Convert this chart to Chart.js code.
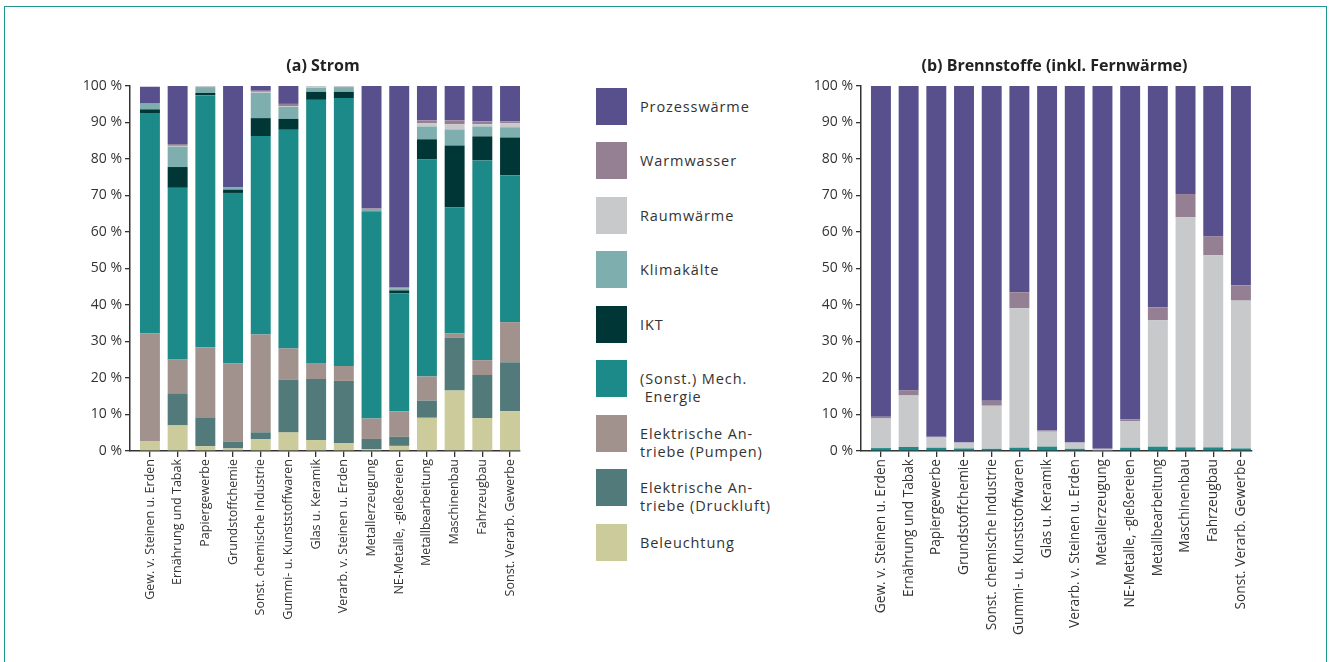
<!DOCTYPE html>
<html>
<head>
<meta charset="utf-8">
<script src="https://cdn.jsdelivr.net/npm/chart.js@4/dist/chart.umd.min.js"></script>
<style>
  html, body { margin: 0; padding: 0; background: #ffffff; }
  body { width: 1335px; height: 662px; position: relative; overflow: hidden; font-family: "Open Sans", sans-serif; }
  #frame { position: absolute; left: 4px; top: 6px; width: 1323px; height: 700px; border: 1.5px solid #1f978e; box-sizing: border-box; }
  #cLeft { position: absolute; left: 0; top: 0; }
  #cRight { position: absolute; left: 780px; top: 0; }
  #legend { position: absolute; left: 596px; top: 0; }
  .sw { position: absolute; left: 0; width: 31px; height: 37px; }
  .lbl { position: absolute; left: 44px; white-space: pre; font-size: 14.5px; line-height: 17.5px; color: #333; letter-spacing: 0.9px; }
</style>
</head>
<body>
<div id="frame"></div>
<canvas id="cLeft" width="560" height="662"></canvas>
<canvas id="cRight" width="555" height="662"></canvas>
<div id="legend"></div>
<script>
// ---------- DATA ----------
const categories = [
  "Gew. v. Steinen u. Erden", "Ernährung und Tabak", "Papiergewerbe", "Grundstoffchemie",
  "Sonst. chemische Industrie", "Gummi- u. Kunststoffwaren", "Glas u. Keramik",
  "Verarb. v. Steinen u. Erden", "Metallerzeugung", "NE-Metalle, -gießereien",
  "Metallbearbeitung", "Maschinenbau", "Fahrzeugbau", "Sonst. Verarb. Gewerbe"
];
const yTicks = [0, 10, 20, 30, 40, 50, 60, 70, 80, 90, 100];
const seriesNames = ["Beleuchtung", "Elektrische An-\ntriebe (Druckluft)", "Elektrische An-\ntriebe (Pumpen)",
  "(Sonst.) Mech.\n Energie", "IKT", "Klimakälte", "Raumwärme", "Warmwasser", "Prozesswärme"];

// (a) Strom, share in %
const stromBeleuchtung = [2.6, 7.0, 1.3, 0.7, 3.2, 5.1, 3.0, 2.2, 0.5, 1.4, 9.1, 16.6, 9.0, 10.9];
const stromDruckluft   = [0.0, 8.8, 7.9, 1.9, 1.9, 14.5, 16.7, 17.0, 2.8, 2.5, 4.7, 14.5, 11.8, 13.4];
const stromPumpen      = [29.6, 9.3, 19.2, 21.4, 26.8, 8.5, 4.4, 4.1, 5.6, 6.9, 6.6, 1.1, 4.1, 11.0];
const stromMech        = [60.4, 47.0, 69.1, 46.7, 54.4, 59.9, 72.1, 73.4, 56.8, 32.4, 59.5, 34.6, 54.7, 40.2];
const stromIKT         = [1.0, 5.7, 0.6, 0.9, 4.9, 3.0, 2.2, 1.7, 0.0, 0.8, 5.5, 16.9, 6.6, 10.4];
const stromKlima       = [1.5, 5.6, 1.6, 0.5, 6.9, 3.3, 1.1, 1.3, 0.6, 0.6, 3.5, 4.4, 2.7, 2.8];
const stromRaum        = [0.0, 0.2, 0.3, 0.0, 0.3, 0.2, 0.5, 0.3, 0.0, 0.0, 0.9, 1.4, 0.6, 1.1];
const stromWarm        = [0.1, 0.5, 0.0, 0.2, 0.3, 0.6, 0.0, 0.0, 0.2, 0.2, 0.8, 1.1, 0.8, 0.5];
const stromProzess     = [4.6, 15.9, 0.0, 27.7, 1.3, 4.9, 0.0, 0.0, 33.5, 55.2, 9.4, 9.4, 9.7, 9.7];

// (b) Brennstoffe (inkl. Fernwärme), share in %
const brennBeleuchtung = [0, 0, 0, 0, 0, 0, 0, 0, 0, 0, 0, 0, 0, 0];
const brennDruckluft   = [0, 0, 0, 0, 0, 0, 0, 0, 0, 0, 0, 0, 0, 0];
const brennPumpen      = [0, 0, 0, 0, 0, 0, 0, 0, 0, 0, 0, 0, 0, 0];
const brennMech        = [0.8, 1.1, 0.9, 0.7, 0.6, 0.9, 1.2, 0.6, 0.0, 0.9, 1.2, 1.0, 1.0, 0.7];
const brennIKT         = [0, 0, 0, 0, 0, 0, 0, 0, 0, 0, 0, 0, 0, 0];
const brennKlima       = [0, 0, 0, 0, 0, 0, 0, 0, 0, 0, 0, 0, 0, 0];
const brennRaum        = [8.1, 14.1, 2.8, 1.6, 11.8, 38.2, 4.1, 1.7, 0.6, 7.2, 34.6, 63.0, 52.6, 40.5];
const brennWarm        = [0.5, 1.4, 0.2, 0.0, 1.4, 4.4, 0.3, 0.0, 0.0, 0.5, 3.5, 6.4, 5.2, 4.2];
const brennProzess     = [90.6, 83.4, 96.1, 97.7, 86.2, 56.5, 94.4, 97.7, 99.4, 91.4, 60.7, 29.6, 41.2, 54.6];

const colors = ["#cccb9b", "#527a7a", "#a1928d", "#1c8a89", "#003636", "#7eaeae", "#c8c9cb", "#957f93", "#58508c"];

// ---------- BUILD ----------
const stromSeries = [stromBeleuchtung, stromDruckluft, stromPumpen, stromMech, stromIKT, stromKlima, stromRaum, stromWarm, stromProzess];
const brennSeries = [brennBeleuchtung, brennDruckluft, brennPumpen, brennMech, brennIKT, brennKlima, brennRaum, brennWarm, brennProzess];

const FONT = '"Open Sans", "Noto Sans", sans-serif';
const TXT = '#333333';

function makeDatasets(series) {
  return series.map((arr, s) => ({
    label: seriesNames[s],
    data: arr.map((v, i) => ({ x: i, y: v })),
    backgroundColor: colors[s],
    borderWidth: 0,
    barPercentage: 0.72,
    categoryPercentage: 1.0,
    stack: 'one'
  }));
}

function titlePlugin(text) {
  return {
    id: 'ttl',
    afterDraw(chart) {
      const ctx = chart.ctx, a = chart.chartArea;
      ctx.save();
      ctx.font = 'bold 16px ' + FONT;
      ctx.fillStyle = '#222';
      ctx.textAlign = 'center';
      ctx.textBaseline = 'middle';
      ctx.fillText(text, (a.left + a.right) / 2 - 2, 66);
      ctx.restore();
    }
  };
}

function makeChart(id, series, title, yWidth, padRight, xMax, xFont) {
  return new Chart(document.getElementById(id), {
    type: 'bar',
    data: { datasets: makeDatasets(series) },
    options: {
      responsive: false,
      animation: false,
      layout: { padding: { top: 86, right: padRight, left: 0, bottom: 0 } },
      plugins: { legend: { display: false }, tooltip: { enabled: false } },
      scales: {
        x: {
          type: 'linear', stacked: true, offset: false,
          min: -0.72, max: xMax,
          afterBuildTicks(axis) { axis.ticks = categories.map((_, i) => ({ value: i })); },
          afterFit(scale) { scale.height = 211; },
          grid: { offset: false, drawOnChartArea: false, drawTicks: true, tickLength: 6, color: TXT, lineWidth: 1.3 },
          border: { display: true, color: TXT, width: 1.5 },
          ticks: {
            autoSkip: false, minRotation: 90, maxRotation: 90, padding: 2,
            color: TXT, font: { family: FONT, size: xFont },
            callback: (v) => categories[v]
          }
        },
        y: {
          stacked: true, min: 0, max: 100,
          afterBuildTicks(axis) { axis.ticks = yTicks.map(v => ({ value: v })); },
          afterFit(scale) { scale.width = yWidth; },
          grid: { drawOnChartArea: false, drawTicks: true, tickLength: 5, color: TXT, lineWidth: 1.3 },
          border: { display: true, color: TXT, width: 1.5 },
          ticks: { color: TXT, padding: 3, font: { family: FONT, size: 14 }, callback: (v) => v + ' %' }
        }
      }
    },
    plugins: [titlePlugin(title)]
  });
}

makeChart('cLeft', stromSeries, '(a) Strom', 130, 40, 13.36, 12.5);
makeChart('cRight', brennSeries, '(b) Brennstoffe (inkl. Fernwärme)', 81, 83, 13.4, 13.7);

// ---------- LEGEND ----------
const legendTops = [88, 142, 197, 251, 306, 360, 415, 469, 524];
const leg = document.getElementById('legend');
for (let k = 0; k < 9; k++) {
  const s = 8 - k;
  const top = legendTops[k];
  const sw = document.createElement('div');
  sw.className = 'sw';
  sw.style.top = top + 'px';
  sw.style.background = colors[s];
  leg.appendChild(sw);
  const lb = document.createElement('div');
  lb.className = 'lbl';
  lb.textContent = seriesNames[s];
  lb.style.top = (top + 10) + 'px';
  leg.appendChild(lb);
}
</script>
</body>
</html>
